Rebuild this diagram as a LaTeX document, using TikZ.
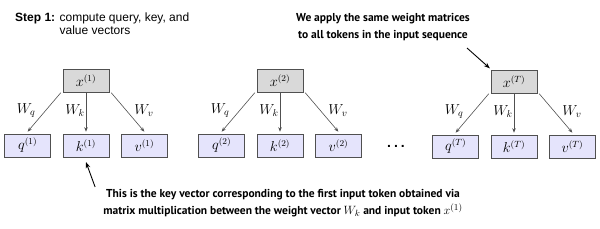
\documentclass[tikz,border=0pt]{standalone}
\usepackage{fontspec}
\setmainfont{Liberation Sans}
\newfontfamily\notefont{PT Sans}
\usepackage{xcolor}
\usetikzlibrary{arrows.meta, positioning}

\definecolor{inputgray}{RGB}{217,217,217}
\definecolor{vecblue}{RGB}{229,228,252}
\definecolor{edgegray}{RGB}{80,80,80}

\begin{document}
\begin{tikzpicture}[
    x=1pt, y=1pt,
    node distance=41pt and 12pt,
    every node/.style={font=\fontsize{12}{13.5}\selectfont},
    token/.style={
        rectangle,
        minimum width=46pt,
        minimum height=23pt,
        inner sep=1pt,
        draw=edgegray,
        fill=inputgray,
        font=\fontsize{13.5}{14}\selectfont
    },
    vector/.style={token, fill=vecblue},
    weight/.style={draw=edgegray, line width=0.6pt, -{Stealth[length=4.5pt,width=3.5pt]}},
    wlabel/.style={font=\fontsize{14.5}{15}\selectfont, inner sep=1pt},
    note/.style={
        font=\notefont\bfseries\fontsize{11.5}{17}\selectfont,
        align=center,
        inner sep=0pt
    },
    pointer/.style={line width=0.9pt, -{Stealth[length=6pt,width=4.5pt]}}
]
\useasboundingbox (0,0) rectangle (600,-229);

\node (step) [anchor=base west, align=left, inner sep=0pt] at (15,-35)
    {\textbf{Step 1:} compute query, key, and\\
     \phantom{\textbf{Step 1:} }value vectors};

% first token
\node (x1) [token] at (86,-81) {$x^{(1)}$};
\node (k1) [vector, below=of x1] {$k^{(1)}$};
\node (q1) [vector, left=of k1]  {$q^{(1)}$};
\node (v1) [vector, right=of k1] {$v^{(1)}$};

% second token
\node (x2) [token] at (280,-81) {$x^{(2)}$};
\node (k2) [vector, below=of x2] {$k^{(2)}$};
\node (q2) [vector, left=of k2]  {$q^{(2)}$};
\node (v2) [vector, right=of k2] {$v^{(2)}$};

\node (dots) [font=\bfseries\fontsize{14}{15}\selectfont] at (396,-146) {.\hspace{3pt}.\hspace{3pt}.};

% last token
\node (xT) [token] at (514,-82) {$x^{(T)}$};
\node (kT) [vector, below=of xT] {$k^{(T)}$};
\node (qT) [vector, left=of kT]  {$q^{(T)}$};
\node (vT) [vector, right=of kT] {$v^{(T)}$};

% Notes
\node (samenote) [note, anchor=north] at (383,-13)
    {We apply the same weight matrices\\to all tokens in the input sequence};
\node (keynote) [note, anchor=north] at (283,-189)
    {This is the key vector corresponding to the first input token obtained via\\
     matrix multiplication between the weight vector {\normalfont\fontsize{12.5}{15}\selectfont$W_k$} and input token {\normalfont\fontsize{12.5}{15}\selectfont$x^{(1)}$}};

% Arrows
\draw[weight] ([xshift=-2pt]x1.south west) -- node[wlabel, left=9pt, pos=0.45] {$W_q$} ([yshift=2pt]q1.north);
\draw[weight] (x1) -- node[wlabel, left, pos=0.45] {$W_k$} ([yshift=2pt]k1.north);
\draw[weight] ([xshift=2pt]x1.south east) -- node[wlabel, right=7pt, pos=0.45] {$W_v$} ([yshift=2pt]v1.north);

\draw[weight] ([xshift=-2pt]x2.south west) -- node[wlabel, left=9pt, pos=0.45] {$W_q$} ([yshift=2pt]q2.north);
\draw[weight] (x2) -- node[wlabel, left, pos=0.45] {$W_k$} ([yshift=2pt]k2.north);
\draw[weight] ([xshift=2pt]x2.south east) -- node[wlabel, right=7pt, pos=0.45] {$W_v$} ([yshift=2pt]v2.north);

\draw[weight] ([xshift=-2pt]xT.south west) -- node[wlabel, left=9pt, pos=0.45] {$W_q$} ([yshift=2pt]qT.north);
\draw[weight] (xT) -- node[wlabel, left, pos=0.45] {$W_k$} ([yshift=2pt]kT.north);
\draw[weight] ([xshift=2pt]xT.south east) -- node[wlabel, right=7pt, pos=0.45] {$W_v$} ([yshift=2pt]vT.north);

\draw[pointer] (467,-48) -- ([shift={(-1pt,2pt)}]xT.north west);
\draw[pointer] ([shift={(-8pt,2pt)}]keynote.north west) -- ([yshift=-5pt]k1.south);

\end{tikzpicture}
\end{document}
